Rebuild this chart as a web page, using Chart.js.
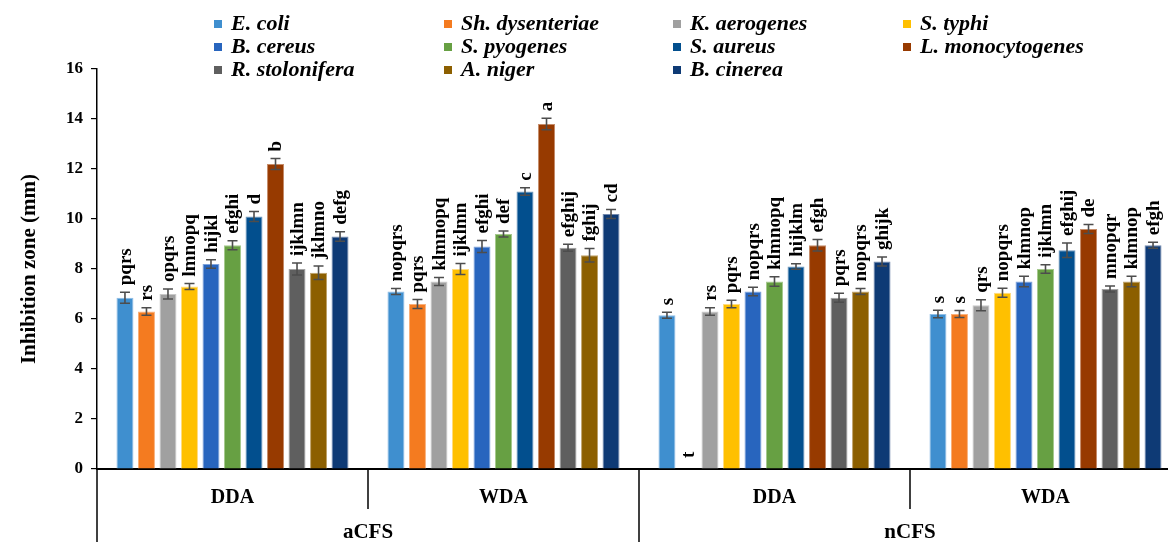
<!DOCTYPE html>
<html><head><meta charset="utf-8">
<script src="https://cdn.jsdelivr.net/npm/chart.js@4.4.1/dist/chart.umd.min.js"></script>
<style>
html,body{margin:0;padding:0;background:#fff;overflow:hidden;width:1168px;height:542px}
#wrap{position:absolute;left:0;top:0;width:1200px;height:542px}
#legend{position:absolute;left:0;top:0;width:1168px;height:85px;font-family:"Liberation Serif",serif;font-weight:bold;font-style:italic;font-size:22px;color:#000}
.li{position:absolute;white-space:nowrap;line-height:24px;height:24px}
.sw{display:inline-block;width:8px;height:8px;margin-right:9px;vertical-align:2px}
</style></head><body>
<div id="wrap"><canvas id="c" width="1200" height="542"></canvas></div>
<div id="legend"></div>
<script>
// ---------- data ----------
const groups = ['aCFS', 'nCFS'];
const methods = ['DDA', 'WDA'];
const categories = ['DDA', 'WDA', 'DDA', 'WDA'];
const seriesNames = ['E. coli', 'Sh. dysenteriae', 'K. aerogenes', 'S. typhi', 'B. cereus', 'S. pyogenes', 'S. aureus', 'L. monocytogenes', 'R. stolonifera', 'A. niger', 'B. cinerea'];

const eColi       = [6.85, 7.10, 6.15, 6.20];
const shDys       = [6.30, 6.60, 0.00, 6.20];
const kAero       = [7.00, 7.50, 6.30, 6.55];
const sTyphi      = [7.30, 8.00, 6.60, 7.05];
const bCereus     = [8.20, 8.90, 7.10, 7.50];
const sPyo        = [8.95, 9.40, 7.50, 8.00];
const sAureus     = [10.10, 11.10, 8.10, 8.75];
const lMono       = [12.20, 13.80, 8.95, 9.60];
const rStol       = [8.00, 8.85, 6.85, 7.20];
const aNiger      = [7.85, 8.55, 7.10, 7.50];
const bCinerea    = [9.30, 10.20, 8.30, 8.95];

const eColiErr    = [0.22, 0.12, 0.12, 0.15];
const shDysErr    = [0.15, 0.18, 0.00, 0.14];
const kAeroErr    = [0.20, 0.16, 0.15, 0.22];
const sTyphiErr   = [0.12, 0.22, 0.15, 0.18];
const bCereusErr  = [0.17, 0.24, 0.17, 0.21];
const sPyoErr     = [0.18, 0.12, 0.19, 0.17];
const sAureusErr  = [0.20, 0.15, 0.11, 0.29];
const lMonoErr    = [0.22, 0.23, 0.23, 0.18];
const rStolErr    = [0.24, 0.14, 0.18, 0.12];
const aNigerErr   = [0.27, 0.27, 0.12, 0.21];
const bCinereaErr = [0.19, 0.18, 0.18, 0.12];

const eColiLet    = ['pqrs', 'nopqrs', 's', 's'];
const shDysLet    = ['rs', 'pqrs', 't', 's'];
const kAeroLet    = ['opqrs', 'klmnopq', 'rs', 'qrs'];
const sTyphiLet   = ['lmnopq', 'ijklmn', 'pqrs', 'nopqrs'];
const bCereusLet  = ['hijkl', 'efghi', 'nopqrs', 'klmnop'];
const sPyoLet     = ['efghi', 'def', 'klmnopq', 'ijklmn'];
const sAureusLet  = ['d', 'c', 'hijklm', 'efghij'];
const lMonoLet    = ['b', 'a', 'efgh', 'de'];
const rStolLet    = ['ijklmn', 'efghij', 'pqrs', 'mnopqr'];
const aNigerLet   = ['jklmno', 'fghij', 'nopqrs', 'klmnop'];
const bCinereaLet = ['defg', 'cd', 'ghijk', 'efgh'];

const yTicks = [0, 2, 4, 6, 8, 10, 12, 14, 16];

// ---------- styles ----------
const colors  = ['#3f8fcf', '#f47b20', '#a0a0a0', '#ffc000', '#2865be', '#67a043', '#024f8e', '#973a00', '#5f5f5f', '#8c5f00', '#0e3a75'];
const borders = ['#8fbde6', '#f9b07a', '#c9c9c9', '#ffdc80', '#7fa3db', '#a6c98e', '#6f97bd', '#c58c6a', '#a3a3a3', '#bfa36b', '#7389ad'];
const FONT = '"Liberation Serif", "Times New Roman", serif';

const valueArrays  = [eColi, shDys, kAero, sTyphi, bCereus, sPyo, sAureus, lMono, rStol, aNiger, bCinerea];
const errorArrays  = [eColiErr, shDysErr, kAeroErr, sTyphiErr, bCereusErr, sPyoErr, sAureusErr, lMonoErr, rStolErr, aNigerErr, bCinereaErr];
const letterArrays = [eColiLet, shDysLet, kAeroLet, sTyphiLet, bCereusLet, sPyoLet, sAureusLet, lMonoLet, rStolLet, aNigerLet, bCinereaLet];

// ---------- legend (HTML grid, 4 columns) ----------
const legendCols = [214, 444, 673, 903];
const legendRows = [11, 34, 57];
const lg = document.getElementById('legend');
seriesNames.forEach((n, i) => {
  const d = document.createElement('div');
  d.className = 'li';
  d.style.left = legendCols[i % 4] + 'px';
  d.style.top = legendRows[Math.floor(i / 4)] + 'px';
  const s = document.createElement('span');
  s.className = 'sw';
  s.style.background = colors[i];
  d.appendChild(s);
  d.appendChild(document.createTextNode(n));
  lg.appendChild(d);
});

// ---------- plugins ----------
const errorLetters = {
  id: 'errorLetters',
  afterDatasetsDraw(chart) {
    const ctx = chart.ctx, y = chart.scales.y;
    ctx.save();
    chart.data.datasets.forEach((ds, i) => {
      const meta = chart.getDatasetMeta(i);
      meta.data.forEach((el, j) => {
        const v = ds.data[j], e = errorArrays[i][j];
        const x = el.x;
        const yt = y.getPixelForValue(v + e), yb = y.getPixelForValue(v - e);
        if (e > 0) {
          ctx.strokeStyle = '#4d4d4d';
          ctx.lineWidth = 1.6;
          ctx.beginPath();
          ctx.moveTo(x, yt); ctx.lineTo(x, yb);
          ctx.moveTo(x - 5, yt); ctx.lineTo(x + 5, yt);
          ctx.moveTo(x - 5, yb); ctx.lineTo(x + 5, yb);
          ctx.stroke();
        }
        ctx.save();
        ctx.translate(x, yt - (v === 0 ? 11 : 7));
        ctx.rotate(-Math.PI / 2);
        ctx.fillStyle = '#000';
        ctx.font = 'bold 19px ' + FONT;
        ctx.textAlign = 'left';
        ctx.textBaseline = 'middle';
        ctx.fillText(letterArrays[i][j], 0, 1);
        ctx.restore();
      });
    });
    ctx.restore();
  }
};

const dividers = {
  id: 'dividers',
  afterDraw(chart) {
    const ctx = chart.ctx, a = chart.chartArea, x = chart.scales.x, H = chart.height;
    const n = categories.length;
    const bounds = [];
    for (let i = 0; i <= n; i++) {
      if (i === 0) bounds.push(a.left);
      else if (i === n) bounds.push(a.right);
      else bounds.push((x.getPixelForValue(i - 1) + x.getPixelForValue(i)) / 2);
    }
    ctx.save();
    ctx.strokeStyle = '#000';
    ctx.lineWidth = 1.5;
    bounds.forEach((bx, i) => {
      const long = i % methods.length === 0;
      ctx.beginPath();
      ctx.moveTo(bx, a.bottom);
      ctx.lineTo(bx, long ? H : a.bottom + 40);
      ctx.stroke();
    });
    ctx.fillStyle = '#000';
    ctx.font = 'bold 21px ' + FONT;
    ctx.textAlign = 'center';
    ctx.textBaseline = 'middle';
    groups.forEach((g, gi) => {
      const cx = (bounds[gi * methods.length] + bounds[(gi + 1) * methods.length]) / 2;
      ctx.fillText(g, cx, a.bottom + 64);
    });
    ctx.restore();
  }
};

// ---------- chart ----------
new Chart(document.getElementById('c'), {
  type: 'bar',
  data: {
    labels: categories,
    datasets: seriesNames.map((n, i) => ({
      label: n,
      data: valueArrays[i],
      backgroundColor: colors[i],
      borderColor: borders[i],
      borderWidth: 1,
      categoryPercentage: 0.873,
      barPercentage: 0.79
    }))
  },
  options: {
    responsive: false,
    animation: false,
    devicePixelRatio: 1,
    layout: { padding: { top: 69, right: 19, left: 0, bottom: 0 } },
    plugins: { legend: { display: false }, tooltip: { enabled: false } },
    scales: {
      x: {
        grid: { display: false, drawTicks: false },
        border: { display: true, color: '#000', width: 2 },
        ticks: { font: { family: FONT, weight: 'bold', size: 20 }, color: '#000', padding: 17, maxRotation: 0, autoSkip: false },
        afterFit(s) { s.height = 73; }
      },
      y: {
        min: 0, max: 16,
        afterBuildTicks(s) { s.ticks = yTicks.map(v => ({ value: v })); },
        ticks: { font: { family: FONT, weight: 'bold', size: 17 }, color: '#000', padding: 8 },
        grid: { drawOnChartArea: false, drawTicks: true, tickLength: 6, color: '#000', lineWidth: 1.2 },
        border: { display: true, color: '#000', width: 1.5 },
        title: { display: true, text: 'Inhibition zone (mm)', font: { family: FONT, weight: 'bold', size: 21 }, color: '#000', padding: { top: 17, bottom: 0 } },
        afterFit(s) { s.width = 97; }
      }
    }
  },
  plugins: [errorLetters, dividers]
});
</script>
</body></html>
